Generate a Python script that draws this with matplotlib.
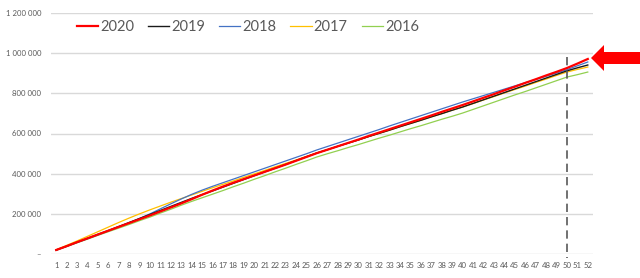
import matplotlib
matplotlib.use("Agg")
import matplotlib.pyplot as plt
from matplotlib.patches import Polygon
from matplotlib.ticker import FuncFormatter, FixedLocator

# ---------------- data (cumulative deaths, thousands) ----------------
weeks = list(range(1, 53))

d2020 = [20, 39, 59, 78, 97, 116, 135, 154, 173, 192,
         212, 232, 252, 273, 295, 316, 336, 355, 373, 391,
         409, 427, 445, 464, 483, 502, 519, 536, 553, 570,
         588, 605, 622, 639, 656, 673, 690, 708, 725, 742,
         760, 778, 796, 815, 833, 852, 870, 889, 907, 926,
         948, 971]
d2019 = [20, 39, 59, 78, 98, 117, 137, 157, 177, 197,
         217, 237, 257, 277, 296, 314, 333, 352, 371, 390,
         409, 427, 446, 465, 484, 503, 519, 536, 552, 568,
         585, 601, 617, 634, 650, 666, 683, 699, 716, 732,
         750, 768, 786, 804, 822, 840, 858, 876, 894, 912,
         927, 941]
d2018 = [19, 38, 57, 76, 95, 115, 135, 155, 177, 200,
         225, 250, 274, 297, 318, 337, 355, 373, 391, 409,
         427, 445, 463, 481, 499, 518, 535, 552, 569, 586,
         603, 620, 638, 655, 672, 689, 706, 723, 740, 757,
         773, 789, 805, 821, 837, 853, 869, 885, 901, 918,
         937, 956]
d2017 = [21, 43, 65, 88, 111, 134, 157, 179, 200, 220,
         239, 258, 276, 294, 312, 330, 347, 364, 382, 399,
         416, 434, 451, 468, 486, 503, 519, 536, 552, 568,
         585, 601, 617, 634, 650, 666, 683, 699, 716, 732,
         749, 767, 784, 802, 819, 836, 854, 871, 889, 906,
         919, 931]
d2016 = [19, 37, 56, 74, 93, 111, 129, 147, 166, 184,
         204, 223, 243, 262, 280, 298, 316, 335, 353, 372,
         390, 409, 427, 446, 464, 483, 499, 514, 530, 545,
         561, 577, 592, 608, 624, 639, 655, 671, 686, 702,
         720, 738, 756, 774, 792, 809, 827, 845, 863, 881,
         893, 906]

series_labels = ["2020", "2019", "2018", "2017", "2016"]
series_data = [d2020, d2019, d2018, d2017, d2016]
current_week = 50
yticks = [0, 200, 400, 600, 800, 1000, 1200]

# ---------------- styling ----------------
colors = ["#FF0000", "#1A1A1A", "#4472C4", "#FFC000", "#92D050"]
widths = [1.6, 1.0, 0.9, 0.9, 0.9]
zorders = [6, 5, 4, 3, 2]
text_gray = "#595959"
grid_gray = "#D9D9D9"

plt.rcParams["font.family"] = ["Lato", "DejaVu Sans"]

W, H = 640, 278
fig = plt.figure(figsize=(W / 100, H / 100), dpi=100)
ax = fig.add_axes([51 / W, 1 - 254 / H, (593 - 51) / W, (254 - 13) / H])

for lab, dat, c, lw, z in zip(series_labels, series_data, colors, widths, zorders):
    ax.plot(weeks, dat, color=c, lw=lw, label=lab, zorder=z,
            solid_joinstyle="round")

ax.set_xlim(0.5, 52.5)
ax.set_ylim(yticks[0], yticks[-1])
ax.yaxis.set_major_locator(FixedLocator(yticks))
ax.xaxis.set_major_locator(FixedLocator(weeks))


def yfmt(v, pos):
    if v == 0:
        return "–"
    return f"{int(round(v * 1000)):,}".replace(",", " ")


ax.yaxis.set_major_formatter(FuncFormatter(yfmt))
ax.grid(axis="y", color=grid_gray, lw=1.0, zorder=0)
ax.set_axisbelow(True)
for s in ax.spines.values():
    s.set_visible(False)
ax.tick_params(axis="both", length=0, colors=text_gray, labelsize=5.6)
ax.tick_params(axis="y", pad=7)
ax.tick_params(axis="x", pad=6)

# current-week marker
ax.axvline(current_week, ymin=(254 - 57) / 241, ymax=-4 / 241, color="#595959",
           lw=1.2, ls=(0, (5, 3)), clip_on=False, zorder=7)

leg = fig.legend(loc="center left", bbox_to_anchor=(77 / W, 1 - 27 / H),
                 ncol=5, frameon=False, fontsize=10.5, handlelength=1.45,
                 handletextpad=0.15, columnspacing=0.95, borderpad=0,
                 borderaxespad=0)
for t in leg.get_texts():
    t.set_color(text_gray)

# red block arrow pointing at the 2020 line
pts_px = [(591, 58), (604, 45), (604, 52), (640, 52), (640, 64), (604, 64), (604, 71)]
pts = [(x / W, 1 - y / H) for x, y in pts_px]
fig.add_artist(Polygon(pts, closed=True, facecolor="#FF0000", edgecolor="none",
                       transform=fig.transFigure))

fig.savefig("out.png", dpi=100)
